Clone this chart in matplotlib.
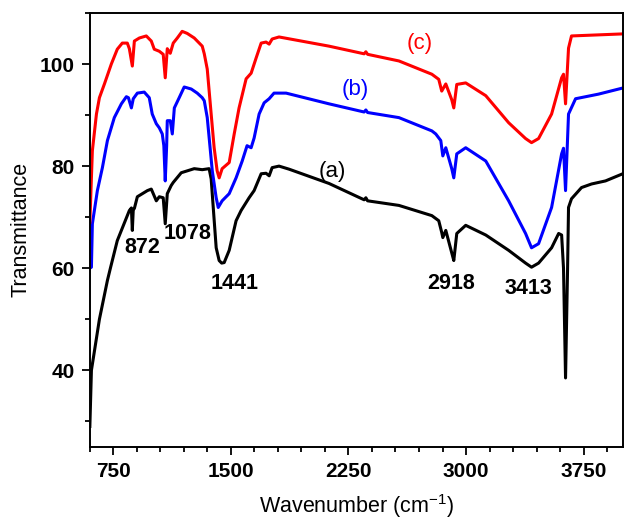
import matplotlib
matplotlib.use("Agg")
import matplotlib.pyplot as plt
from matplotlib.ticker import MultipleLocator

plt.rcParams['font.family'] = ['Liberation Sans', 'DejaVu Sans']
plt.rcParams['axes.unicode_minus'] = False
plt.rcParams['mathtext.fontset'] = 'custom'
plt.rcParams['mathtext.rm'] = 'Liberation Sans'

# ---- data (wavenumber cm^-1, transmittance) ----
wn_a = [600, 610, 661, 712, 731, 775, 852, 865, 871, 877, 884, 903, 967, 992, 1024, 1043, 1068,
        1081, 1094, 1119, 1132, 1183, 1266, 1317, 1361, 1374, 1387, 1406, 1425, 1441, 1457, 1489,
        1533, 1565, 1616, 1648, 1693, 1724, 1744, 1763, 1807, 1871, 2126, 2350, 2361, 2372, 2572,
        2782, 2826, 2845, 2852, 2871, 2909, 2922, 2941, 2998, 3126, 3272, 3380, 3418, 3463, 3546,
        3591, 3610, 3622, 3635, 3648, 3654, 3673, 3737, 3801, 3890, 4000]
t_a = [29, 40, 50, 57.6, 60, 65.4, 71.3, 71.8, 67.4, 71.5, 71.7, 74, 75.2, 75.5, 73.2, 74, 73.8,
       68.7, 74.6, 76.2, 76.8, 78.7, 79.5, 79.3, 79.5, 77.5, 72, 64, 61.5, 61, 61.1, 63.5,
       69.3, 71.3, 73.8, 75.2, 78.5, 78.6, 78.1, 79.7, 80.0, 79.4, 76.6, 73.4, 73.8, 73.2, 72.3,
       70.3, 69.3, 67, 66, 67.4, 63, 61.5, 66.8, 68.4, 66.5, 63.5, 61, 60.2, 61, 64,
       66.8, 66.5, 60, 38.5, 60, 71.9, 73.6, 75.8, 76.5, 77.1, 78.5]

wn_b = [600, 610, 616, 648, 680, 712, 756, 801, 833, 846, 865, 877, 903, 947, 979, 998, 1024,
        1043, 1062, 1072, 1081, 1090, 1094, 1113, 1126, 1139, 1170, 1202, 1247, 1285, 1317, 1330,
        1349, 1381, 1406, 1419, 1444, 1489, 1533, 1572, 1603, 1629, 1648, 1680, 1712, 1744, 1775,
        1852, 2126, 2350, 2361, 2372, 2572, 2782, 2807, 2839, 2852, 2871, 2909, 2922, 2941, 2998,
        3126, 3272, 3380, 3418, 3463, 3546, 3610, 3622, 3635, 3654, 3699, 3845, 4000]
t_b = [60, 60.2, 68.7, 75.2, 79.7, 85, 89.5, 92.2, 93.6, 93.4, 91.4, 93.2, 94.3, 94.5, 93.4, 90.2, 88.3,
       87.5, 86.3, 84, 77.1, 84, 88.9, 88.9, 86.3, 91.4, 93.4, 95.5, 95.1, 94.3, 93.4, 92.8,
       89.5, 79.1, 73.8, 71.9, 73.2, 74.6, 77.7, 81, 84, 83.6, 85.5, 90.2, 92.4, 93.2, 94.3,
       94.3, 92.2, 90.6, 91.0, 90.5, 89.5, 86.9, 86.3, 85, 82, 83.6, 79.5, 77.7, 82.4, 83.6,
       81, 73.2, 66.8, 64, 64.8, 71.9, 82.4, 83.5, 75.2, 90.2, 93.2, 94.1, 95.3]

wn_c = [600, 616, 642, 661, 693, 737, 775, 807, 839, 852, 871, 884, 916, 960, 992, 1011, 1043,
        1068, 1081, 1094, 1113, 1132, 1158, 1189, 1221, 1266, 1317, 1330, 1349, 1374, 1393, 1412,
        1425, 1444, 1489, 1521, 1552, 1597, 1629, 1661, 1693, 1724, 1744, 1763, 1807, 2126, 2350,
        2361, 2372, 2572, 2782, 2826, 2845, 2871, 2909, 2922, 2941, 2998, 3126, 3272, 3380, 3418,
        3463, 3546, 3610, 3622, 3635, 3654, 3673, 4000]
t_c = [69, 83, 90.2, 93.4, 96.1, 100, 102.9, 104.1, 104.1, 103, 99.6, 104.5, 105.1, 105.5, 104.5, 102.9, 102.5,
       101.9, 97.3, 103, 102.1, 104.1, 105.1, 106.4, 106, 105.1, 103.5, 102, 99, 90.2, 83.6, 79.1,
       77.7, 79.5, 80.7, 86.3, 91.4, 97.1, 98.2, 101.2, 104.1, 104.3, 103.9, 104.9, 105.3, 103.5, 102.0,
       102.4, 101.9, 100.6, 98, 97, 94.7, 96.1, 93, 91.4, 96, 96.3, 93.8, 88.5, 85.4, 84.6,
       85.4, 90.2, 97.3, 98, 92.2, 103.1, 105.5, 105.9]

peak_labels = ["872", "1078", "1441", "2918", "3413"]
peak_pos = [(935, 64.1), (1221, 66.8), (1521, 57.0), (2903, 57.0), (3400, 56.1)]

series_labels = ["(a)", "(b)", "(c)"]
series_pos = [(2145, 79.0), (2291, 95.1), (2705, 104.1)]
colors = ["black", "#0000ff", "#ff0000"]

fig = plt.figure(figsize=(6.24, 5.19), dpi=100)
ax = fig.add_axes([0.144, 0.139, 0.854, 0.836])

for wn, t, c in zip([wn_a, wn_b, wn_c], [t_a, t_b, t_c], colors):
    ax.plot(wn, t, color=c, lw=2.2, solid_joinstyle='round')

for lab, (x, y) in zip(peak_labels, peak_pos):
    ax.text(x, y, lab, fontsize=15.5, fontweight='bold', ha='center', va='center')
for lab, (x, y), c in zip(series_labels, series_pos, colors):
    ax.text(x, y, lab, fontsize=16, color=c, ha='center', va='center')

ax.set_xlim(600, 4000)
ax.set_ylim(25, 110)
ax.xaxis.set_minor_locator(MultipleLocator(150))
ax.yaxis.set_minor_locator(MultipleLocator(10))
ax.set_xticks([750, 1500, 2250, 3000, 3750])
ax.set_yticks([40, 60, 80, 100])
ax.tick_params(which='major', direction='out', length=6, width=1.3, labelsize=15, pad=5)
ax.tick_params(which='minor', direction='out', length=3.5, width=1.3)
for lab in ax.get_xticklabels() + ax.get_yticklabels():
    lab.set_fontweight('bold')
for s in ax.spines.values():
    s.set_linewidth(1.4)

ax.set_xlabel("Wavenumber (cm$^{-1}$)", fontsize=15.5, labelpad=8)
ax.set_ylabel("Transmittance", fontsize=15.5, labelpad=6)

fig.savefig("out.png", dpi=100)
